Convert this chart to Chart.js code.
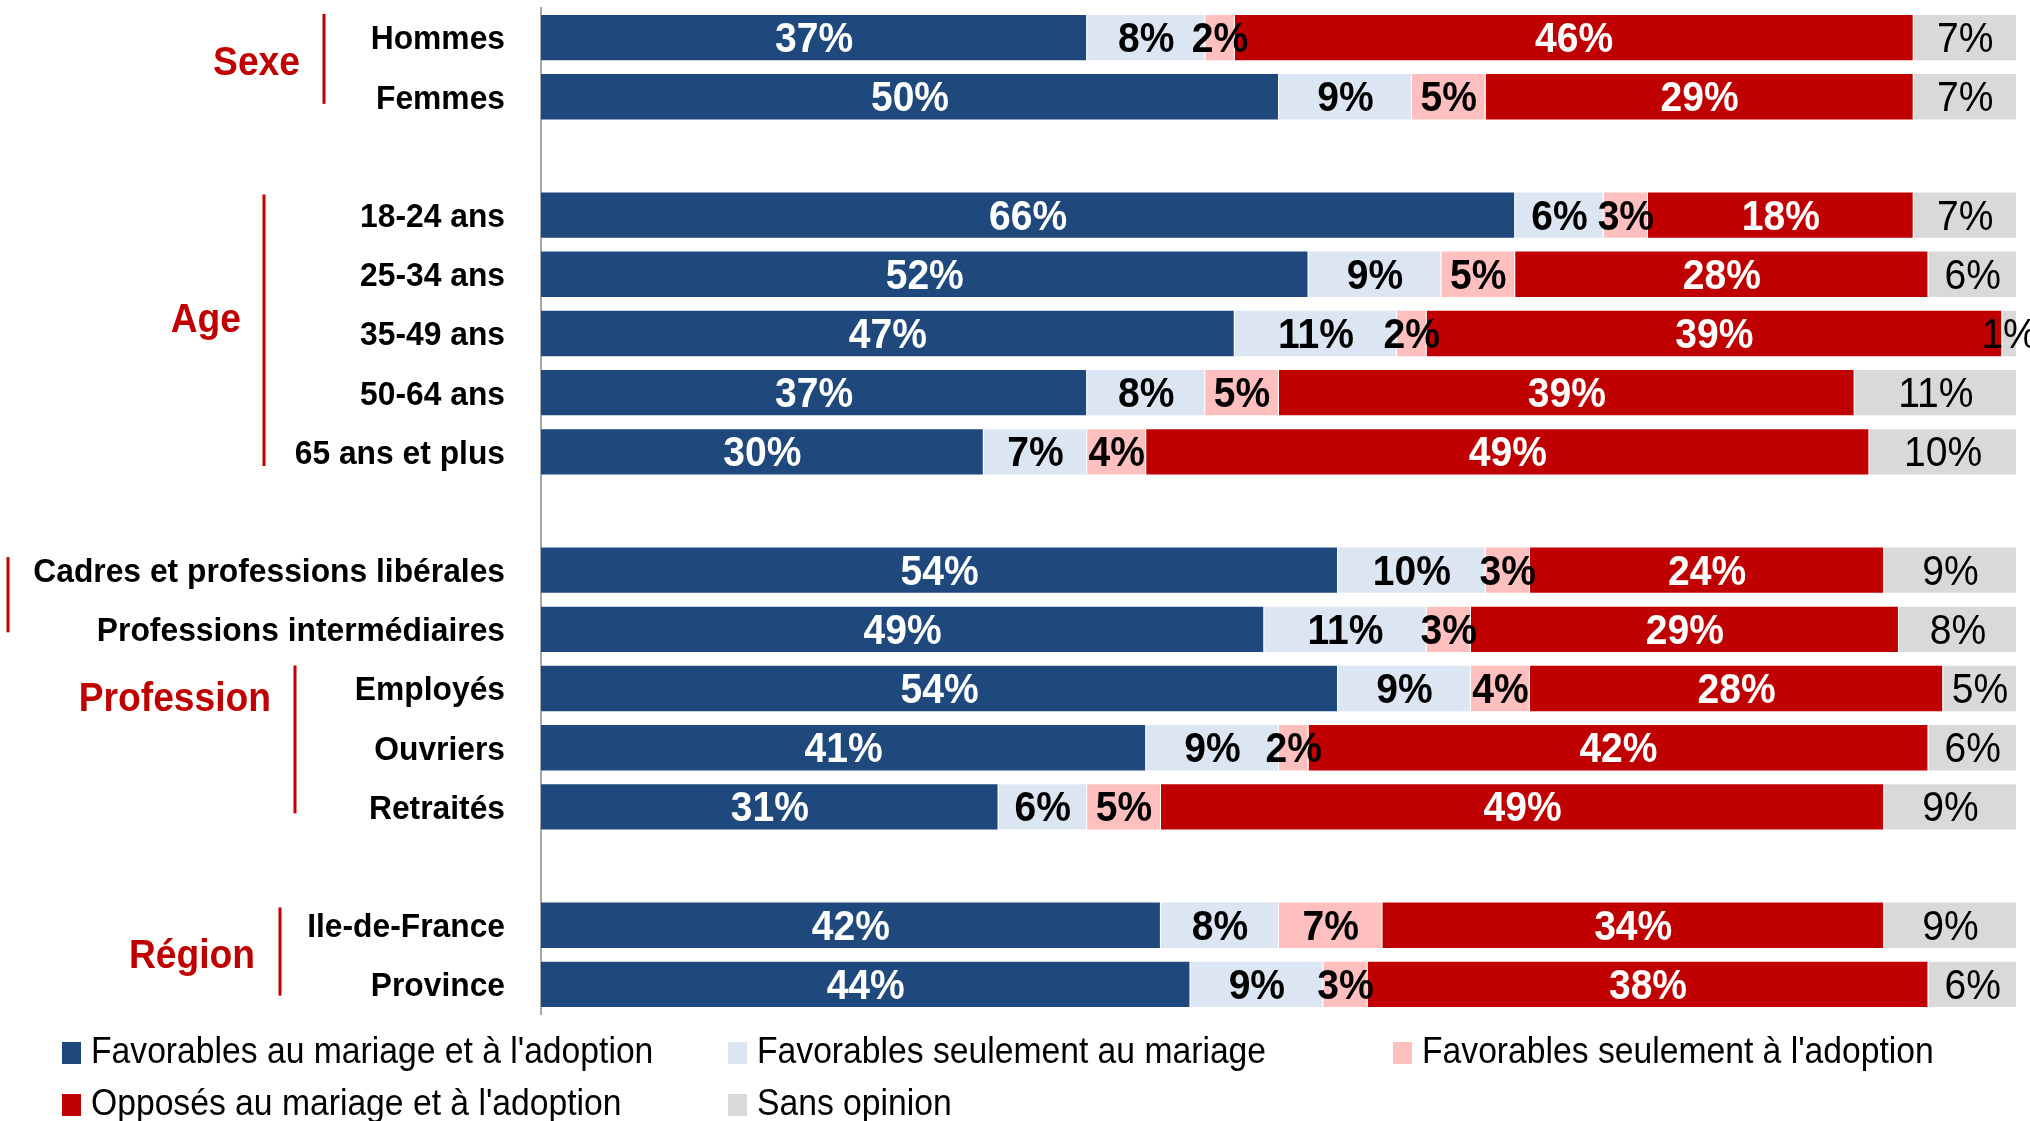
<!DOCTYPE html>
<html><head><meta charset="utf-8">
<script src="https://cdn.jsdelivr.net/npm/chart.js@4.4.0/dist/chart.umd.min.js"></script>
<style>html,body{margin:0;padding:0;background:#fff;}#wrap{width:2030px;height:1121px;position:relative;}</style>
</head><body><div id="wrap"><canvas id="c" width="2030" height="1121"></canvas></div>
<script>
const categories = ["Hommes","Femmes","","18-24 ans","25-34 ans","35-49 ans","50-64 ans","65 ans et plus","","Cadres et professions libérales","Professions intermédiaires","Employés","Ouvriers","Retraités","","Ile-de-France","Province"];
const seriesNames = ["Favorables au mariage et à l'adoption","Favorables seulement au mariage","Favorables seulement à l'adoption","Opposés au mariage et à l'adoption","Sans opinion"];
const favBoth     = [37,50,null,66,52,47,37,30,null,54,49,54,41,31,null,42,44];
const favMariage  = [8,9,null,6,9,11,8,7,null,10,11,9,9,6,null,8,9];
const favAdoption = [2,5,null,3,5,2,5,4,null,3,3,4,2,5,null,7,3];
const opposes     = [46,29,null,18,28,39,39,49,null,24,29,28,42,49,null,34,38];
const sansOpinion = [7,7,null,7,6,1,11,10,null,9,8,5,6,9,null,9,6];
const groupNames = ["Sexe","Age","Profession","Région"];

// layout / style (not data)
const colors = ["#1F497D","#DCE6F2","#FFBFBF","#C00000","#D9D9D9"];
const labelColors = ["#FFFFFF","#000000","#000000","#FFFFFF","#000000"];
const labelWeights = ["bold","bold","bold","bold","normal"];
const FONT = "'Liberation Sans', Arial, sans-serif";
const groupLayout = [
  {textRight:300, textIdx:0.45, lineX:324, from:-0.40, to:1.12},
  {textRight:241, textIdx:4.79, lineX:264, from:2.65, to:7.24},
  {textRight:271, textIdx:11.20, lineX:295, from:10.61, to:13.11, extra:{x:8, from:8.78, to:10.05}},
  {textRight:255, textIdx:15.54, lineX:280, from:14.70, to:16.19}
];
const legendCols = [62, 728, 1393];
const legendRows = [1053, 1105];

const values = [favBoth, favMariage, favAdoption, opposes, sansOpinion];

function drawText(ctx, text, x, y, font, color, align, sx){
  ctx.save();
  ctx.font = font; ctx.fillStyle = color; ctx.textBaseline = 'middle'; ctx.textAlign = align;
  ctx.translate(x, y); ctx.scale(sx, 1); ctx.fillText(text, 0, 0);
  ctx.restore();
}

const textPlugin = {
  id:'textPlugin',
  afterDatasetsDraw(chart){
    const ctx = chart.ctx;
    const yS = chart.scales.y;
    chart.data.datasets.forEach((ds, di) => {
      const meta = chart.getDatasetMeta(di);
      meta.data.forEach((el, i) => {
        const v = ds.data[i];
        if (v === null || v === undefined) return;
        const cx = (el.x + el.base) / 2;
        drawText(ctx, v + '%', cx, el.y + 3, labelWeights[di] + ' 42px ' + FONT, labelColors[di], 'center', 0.93);
      });
    });
    categories.forEach((c, i) => {
      if (!c) return;
      drawText(ctx, c, 505, yS.getPixelForValue(i) + 2.5, 'bold 34px ' + FONT, '#000', 'right', 0.935);
    });
    ctx.save();
    ctx.strokeStyle = '#C00000'; ctx.lineWidth = 3;
    groupLayout.forEach((g, gi) => {
      drawText(ctx, groupNames[gi], g.textRight, yS.getPixelForValue(g.textIdx), 'bold 40px ' + FONT, '#C00000', 'right', 0.93);
      ctx.beginPath();
      ctx.moveTo(g.lineX, yS.getPixelForValue(g.from));
      ctx.lineTo(g.lineX, yS.getPixelForValue(g.to));
      ctx.stroke();
      if (g.extra){
        ctx.beginPath();
        ctx.moveTo(g.extra.x, yS.getPixelForValue(g.extra.from));
        ctx.lineTo(g.extra.x, yS.getPixelForValue(g.extra.to));
        ctx.stroke();
      }
    });
    ctx.restore();
    chart.data.datasets.forEach((ds, di) => {
      const col = di % 3, row = Math.floor(di / 3);
      const x = legendCols[col], y = legendRows[row];
      ctx.fillStyle = ds.backgroundColor;
      ctx.fillRect(x, y - 11, 19, 22);
      drawText(ctx, ds.label, x + 29, y, '37px ' + FONT, '#000', 'left', 0.91);
    });
  }
};

new Chart(document.getElementById('c'), {
  type:'bar',
  data:{
    labels: categories,
    datasets: seriesNames.map((n, i) => ({
      label:n, data:values[i], backgroundColor:colors[i],
      borderWidth:1, borderColor:'rgba(255,255,255,0.3)',
      categoryPercentage:1, barPercentage:0.8
    }))
  },
  options:{
    indexAxis:'y', responsive:false, animation:false,
    layout:{padding:{top:8, bottom:107, right:13, left:0}},
    plugins:{legend:{display:false}, tooltip:{enabled:false}},
    scales:{
      x:{stacked:true, min:0, max:100, display:false},
      y:{stacked:true, grid:{display:false, drawTicks:false}, ticks:{display:false},
         border:{display:true, color:'#A6A6A6', width:2},
         afterFit(s){ s.width = 541; }}
    }
  },
  plugins:[textPlugin]
});
</script></body></html>
